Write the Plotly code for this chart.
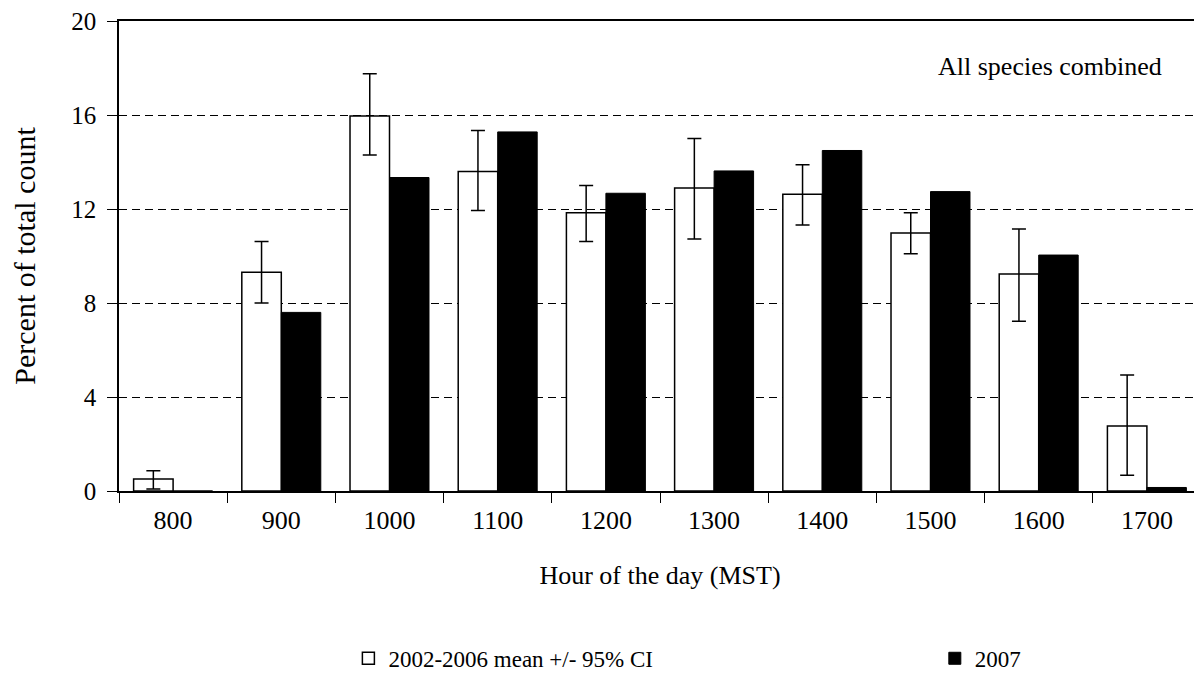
import plotly.graph_objects as go

hours = ["800", "900", "1000", "1100", "1200", "1300", "1400", "1500", "1600", "1700"]
mean_0206 = [0.51, 9.31, 15.96, 13.6, 11.84, 12.89, 12.63, 10.98, 9.23, 2.77]
ci_upper = [0.86, 10.62, 17.76, 15.34, 13.0, 15.0, 13.88, 11.84, 11.15, 4.94]
ci_lower = [0.08, 8.0, 14.3, 11.94, 10.62, 10.72, 11.32, 10.1, 7.22, 0.67]
y2007 = [0.0, 7.6, 13.34, 15.28, 12.67, 13.62, 14.49, 12.74, 10.04, 0.15]
y_ticks = [0, 4, 8, 12, 16, 20]

FONT = "Liberation Serif, Times New Roman, serif"

err_plus = [u - m for u, m in zip(ci_upper, mean_0206)]
err_minus = [m - l for m, l in zip(mean_0206, ci_lower)]

fig = go.Figure()
fig.add_trace(go.Bar(
    x=hours, y=mean_0206, name="2002-2006 mean +/- 95% CI", legend="legend",
    marker=dict(color="white", line=dict(color="black", width=1.5)),
    error_y=dict(type="data", symmetric=False, array=err_plus, arrayminus=err_minus,
                 color="black", thickness=1.5, width=7),
))
fig.add_trace(go.Bar(
    x=hours, y=y2007, name="2007", legend="legend2",
    marker=dict(color="black", line=dict(color="black", width=1)),
))

leg_font = dict(family=FONT, size=23, color="black")
# page body has an 8px margin, so the figure is shrunk by 8px and margins shifted
fig.update_layout(
    width=1194, height=680,
    margin=dict(l=111, r=1, t=13, b=197),
    paper_bgcolor="white", plot_bgcolor="white",
    barmode="group", bargap=0.27, bargroupgap=0,
    font=dict(family=FONT, size=26, color="black"),
    showlegend=True,
    legend=dict(orientation="h", x=0.212, y=-0.356, xanchor="left", yanchor="middle",
                font=leg_font, bgcolor="rgba(0,0,0,0)", visible=True),
    legend2=dict(orientation="h", x=0.754, y=-0.356, xanchor="left", yanchor="middle",
                 font=leg_font, bgcolor="rgba(0,0,0,0)", visible=True),
    annotations=[dict(text="All species combined", x=0.966, y=0.903, xref="paper", yref="paper",
                      xanchor="right", yanchor="middle", showarrow=False,
                      font=dict(family=FONT, size=26, color="black"))],
)
fig.update_xaxes(
    type="category", automargin=False,
    showline=True, linecolor="black", linewidth=1.5, mirror=True,
    ticks="outside", tickson="boundaries", ticklen=10, tickcolor="black", tickwidth=1,
    showgrid=False, ticklabelstandoff=5,
    title=dict(text="Hour of the day (MST)", font=dict(family=FONT, size=26), standoff=32),
    tickfont=dict(family=FONT, size=26),
)
fig.update_yaxes(
    range=[0, 20], tickvals=y_ticks, automargin=False, ticklabeloverflow="allow",
    showline=True, linecolor="black", linewidth=1.5,
    ticks="outside", ticklen=10, tickcolor="black", tickwidth=1,
    showgrid=True, gridcolor="black", gridwidth=1, griddash="8px,5px",
    zeroline=False, ticklabelstandoff=6,
    title=dict(text="Percent of total count", font=dict(family=FONT, size=30), standoff=34),
    tickfont=dict(family=FONT, size=25),
)

fig.write_html("out.html")
